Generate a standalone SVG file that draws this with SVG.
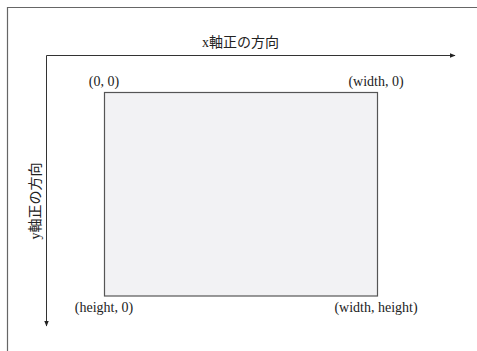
<svg xmlns="http://www.w3.org/2000/svg" width="477" height="351" viewBox="0 0 477 351">
<style>
.frame{fill:none;stroke:#666;stroke-width:1.2}
.axis{fill:none;stroke:#333;stroke-width:1}
.t{font-family:"Liberation Serif","Noto Sans CJK JP",serif;font-size:14px;fill:#222;text-anchor:middle}
.box{fill:#f2f2f4;stroke:#555;stroke-width:1.2}
</style>
<defs>
<marker id="ah" viewBox="0 0 10 10" refX="9" refY="5" markerWidth="6" markerHeight="6" markerUnits="userSpaceOnUse" orient="auto">
<path d="M0,1 L10,5 L0,9 z" fill="#222"/>
</marker>
</defs>
<rect width="477" height="351" fill="#fff"/>
<path class="frame" d="M7.5,351 V7.5 H477"/>
<g id="connectors">
<path class="axis" d="M46.5,55.5 H455" marker-end="url(#ah)"/>
<path class="axis" d="M46.5,55.5 V326" marker-end="url(#ah)"/>
</g>
<g id="x-label"><text class="t" x="240.5" y="46.5">x軸正の方向</text></g>
<g id="y-label"><text class="t" transform="translate(40,201) rotate(-90)" x="0" y="0">y軸正の方向</text></g>
<g id="rect"><rect class="box" x="104.5" y="92.5" width="273" height="203.5"/></g>
<g id="tl"><text class="t" x="104" y="86">(0, 0)</text></g>
<g id="tr"><text class="t" x="376" y="86">(width, 0)</text></g>
<g id="bl"><text class="t" x="104" y="312">(height, 0)</text></g>
<g id="br"><text class="t" x="376" y="312">(width, height)</text></g>
</svg>
